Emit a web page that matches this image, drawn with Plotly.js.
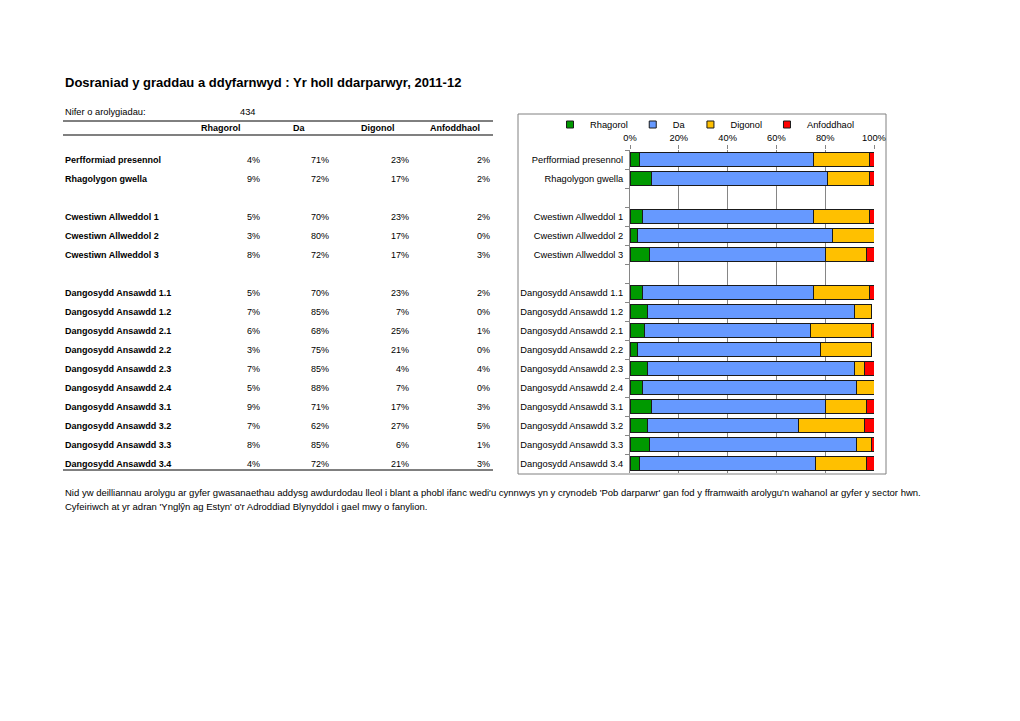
<!DOCTYPE html>
<html>
<head>
<meta charset="utf-8">
<script src="https://cdn.plot.ly/plotly-3.0.1.min.js"></script>
<style>
html,body{margin:0;padding:0;background:#fff;}
#chart{width:1020px;height:721px;}
</style>
</head>
<body>
<div id="chart"></div>
<script>
// ---- data ----
const categories = [
  'Perfformiad presennol', 'Rhagolygon gwella',
  'Cwestiwn Allweddol 1', 'Cwestiwn Allweddol 2', 'Cwestiwn Allweddol 3',
  'Dangosydd Ansawdd 1.1', 'Dangosydd Ansawdd 1.2', 'Dangosydd Ansawdd 2.1',
  'Dangosydd Ansawdd 2.2', 'Dangosydd Ansawdd 2.3', 'Dangosydd Ansawdd 2.4',
  'Dangosydd Ansawdd 3.1', 'Dangosydd Ansawdd 3.2', 'Dangosydd Ansawdd 3.3',
  'Dangosydd Ansawdd 3.4'
];
const rhagorol   = [4, 9, 5, 3, 8, 5, 7, 6, 3, 7, 5, 9, 7, 8, 4];
const da         = [71, 72, 70, 80, 72, 70, 85, 68, 75, 85, 88, 71, 62, 85, 72];
const digonol    = [23, 17, 23, 17, 17, 23, 7, 25, 21, 4, 7, 17, 27, 6, 21];
const anfoddhaol = [2, 2, 2, 0, 3, 2, 0, 1, 0, 4, 0, 3, 5, 1, 3];
const seriesNames = ['Rhagorol', 'Da', 'Digonol', 'Anfoddhaol'];
const xTickVals = [0, 20, 40, 60, 80, 100];
const xTickText = ['0%', '20%', '40%', '60%', '80%', '100%'];
const groups = [2, 3, 10]; // rows per group, blank slot between groups
const inspections = 434;
const titleText = 'Dosraniad y graddau a ddyfarnwyd : Yr holl ddarparwyr, 2011-12';
const countLabel = 'Nifer o arolygiadau:';
const notes = [
  "Nid yw deilliannau arolygu ar gyfer gwasanaethau addysg awdurdodau lleol i blant a phobl ifanc wedi'u cynnwys yn y crynodeb 'Pob darparwr' gan fod y fframwaith arolygu'n wahanol ar gyfer y sector hwn.",
  "Cyfeiriwch at yr adran 'Ynglŷn ag Estyn' o'r Adroddiad Blynyddol i gael mwy o fanylion."
];

// ---- styles ----
const colors = ['#009900', '#6699FF', '#FFC000', '#FF0000'];
const FONT = 'Arial, "Liberation Sans", sans-serif';
const W = 1020, H = 721;
const M = {l: 630, r: 146, t: 150, b: 248};
const PW = W - M.l - M.r, PH = H - M.t - M.b;
const X = px => (px - M.l) / PW;
const Y = py => (H - M.b - py) / PH;

// category array with blank separator slots
const catArray = [];
let k = 0, blanks = '';
groups.forEach((n, gi) => {
  for (let i = 0; i < n; i++) catArray.push(categories[k++]);
  if (gi < groups.length - 1) { blanks += ' '; catArray.push(blanks); }
});

const seriesValues = [rhagorol, da, digonol, anfoddhaol];
const traces = seriesNames.map((name, i) => ({
  type: 'bar', orientation: 'h', name: name,
  y: categories, x: seriesValues[i],
  width: 0.7,
  showlegend: false,
  marker: {color: colors[i], line: {color: '#1a1a1a', width: 1}},
  hoverinfo: 'skip'
}));
// legend entries with small square keys (same names & colours)
seriesNames.forEach((name, i) => traces.push({
  type: 'scatter', mode: 'markers', name: name,
  x: [null], y: [null], showlegend: true, hoverinfo: 'skip',
  marker: {symbol: 'square', size: 7, color: colors[i], line: {color: '#1a1a1a', width: 1}}
}));

const annotations = [];
const shapes = [];
const txt = (x, y, text, opts) => Object.assign({
  xref: 'paper', yref: 'paper', x: x, y: y, text: text, showarrow: false,
  xanchor: 'left', yanchor: 'middle',
  font: {family: FONT, size: 9.3, color: '#000'}
}, opts || {});

annotations.push(txt(X(63), Y(82), '<b>' + titleText + '</b>', {font: {family: FONT, size: 13, color: '#000'}}));
annotations.push(txt(X(63), Y(112), countLabel));
annotations.push(txt(X(258), Y(112), String(inspections), {xanchor: 'right'}));

const headerX = [221, 299, 378, 455];
seriesNames.forEach((n, i) => annotations.push(txt(X(headerX[i]), Y(128), '<b>' + n + '</b>', {xanchor: 'center', font: {family: FONT, size: 9, color: '#000'}})));

const valueRight = [262, 331, 411, 492];
categories.forEach((c, r) => {
  annotations.push(txt(X(63), c, '<b>' + c + '</b>', {yref: 'y', font: {family: FONT, size: 9, color: '#000'}}));
  seriesValues.forEach((arr, i) => annotations.push(txt(X(valueRight[i]), c, arr[r] + '%', {yref: 'y', xanchor: 'right', font: {family: FONT, size: 9, color: '#000'}})));
});

notes.forEach((n, i) => annotations.push(txt(X(63), Y(492 + 14 * i), n, {font: {family: FONT, size: 9.5, color: '#000'}})));

const hline = (x0, x1, py, color, w) => ({type: 'line', xref: 'paper', yref: 'paper', x0: X(x0), x1: X(x1), y0: Y(py), y1: Y(py), line: {color: color, width: w}, layer: 'above'});
shapes.push(hline(63, 493, 121, '#000', 1));
shapes.push(hline(63, 493, 135, '#808080', 2));
shapes.push(hline(63, 493, 470, '#000', 1));
shapes.push({type: 'rect', xref: 'paper', yref: 'paper', x0: X(518), x1: X(886), y0: Y(114), y1: Y(474), line: {color: '#808080', width: 1}, fillcolor: 'rgba(0,0,0,0)', layer: 'below'});

const layout = {
  width: W, height: H,
  margin: M,
  paper_bgcolor: '#fff', plot_bgcolor: '#fff',
  barmode: 'stack',
  font: {family: FONT, size: 9.3, color: '#000'},
  showlegend: true,
  legend: {
    orientation: 'h', x: X(550), xanchor: 'left', y: Y(110), yanchor: 'top',
    font: {family: FONT, size: 9.3, color: '#000'},
    itemwidth: 30,
    traceorder: 'normal', bgcolor: 'rgba(0,0,0,0)', tracegroupgap: 0
  },
  xaxis: {
    side: 'top', range: [0, 100], fixedrange: true,
    tickmode: 'array', tickvals: xTickVals, ticktext: xTickText,
    showgrid: true, gridcolor: '#868686', gridwidth: 1,
    zeroline: false, showline: false,
    ticks: 'outside', ticklen: 4, tickcolor: '#868686',
    tickfont: {family: FONT, size: 9.3, color: '#000'}
  },
  yaxis: {
    type: 'category', categoryorder: 'array', categoryarray: catArray,
    autorange: 'reversed', fixedrange: true,
    tickson: 'boundaries', ticks: 'outside', ticklen: 4, tickcolor: '#868686',
    ticklabelstandoff: 4,
    showline: true, linecolor: '#868686', linewidth: 1,
    showgrid: false, zeroline: false,
    tickfont: {family: FONT, size: 9.3, color: '#000'}
  },
  annotations: annotations,
  shapes: shapes
};

Plotly.newPlot('chart', traces, layout, {staticPlot: true, displayModeBar: false});
</script>
</body>
</html>
